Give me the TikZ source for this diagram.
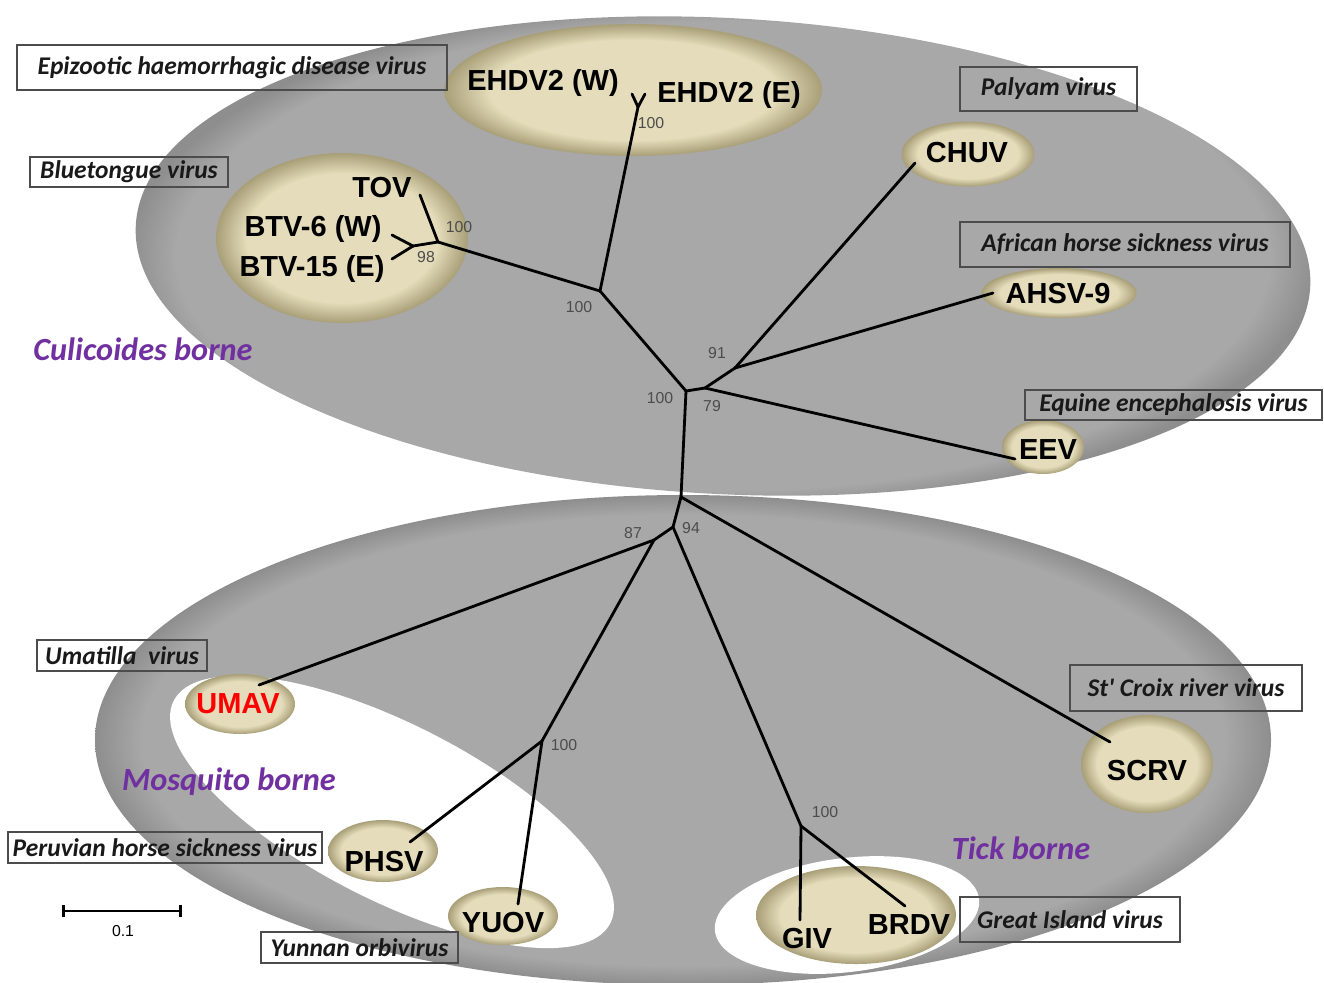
\documentclass[tikz,border=0pt]{standalone}
\usepackage{fontspec}
\setmainfont{Liberation Sans}
\setsansfont{Liberation Sans}
\newfontfamily\calibrifont{Carlito}
\usepackage{tikz}
\usetikzlibrary{shapes.geometric,arrows.meta}
\definecolor{borneviolet}{HTML}{7030A0}
\definecolor{tanlight}{HTML}{E4DCBA}
\definecolor{tanrim}{HTML}{A89F78}
\definecolor{blobgrey}{HTML}{A8A8A8}
\definecolor{blobrim}{HTML}{8E8E8E}
\pgfdeclareradialshading{tanball}{\pgfpoint{0bp}{0bp}}{color(0bp)=(tanlight); color(19bp)=(tanlight); color(25bp)=(tanrim); color(50bp)=(tanrim)}
\pgfdeclareradialshading{greyblob}{\pgfpoint{0bp}{0bp}}{color(0bp)=(blobgrey); color(23bp)=(blobgrey); color(25bp)=(blobrim); color(50bp)=(blobrim)}
\newcommand{\leaffont}{\fontsize{16.5}{18}\selectfont\bfseries}
\newcommand{\boxfont}{\calibrifont\fontsize{14.5}{16}\selectfont\bfseries\itshape}
\newcommand{\bornefont}{\calibrifont\fontsize{18.4}{20}\selectfont\bfseries\itshape}
\newcommand{\bootfont}{\fontsize{9}{10}\selectfont}
\tikzset{
    blob/.style={shade, shading=greyblob},
    hole/.style={fill=white},
    tanoval/.style={
        ellipse, shade, shading=tanball, inner sep=0pt
    },
    leafname/.style={font=\leaffont, inner sep=0pt},
    virusbox/.style={
        draw=black!70, line width=1pt, font=\boxfont,
        text=black!90, inner xsep=1pt, inner ysep=0pt
    },
    borne/.style={font=\bornefont, text=borneviolet, inner sep=0pt},
    bootval/.style={font=\bootfont, text=black!70, inner sep=0pt},
    branch/.style={line width=1.6pt, line cap=round}
}

\begin{document}
\begin{tikzpicture}[x=0.2mm, y=-0.2mm]
    \useasboundingbox (0,0) rectangle (1324,982);

    % vector groups
    \path[blob, rotate around={-3:(723,256)}] (723,256) ellipse [x radius=588, y radius=238];
    \path[blob] (683,740) ellipse [x radius=588, y radius=245];
    \path[hole, rotate around={-27:(392,812)}] (392,812) ellipse [x radius=245, y radius=88];
    \path[hole, rotate around={7:(847,915)}] (847,915) ellipse [x radius=133, y radius=57];

    % virus ovals
    \node[tanoval, minimum width=75.6mm, minimum height=26.4mm] (ehdvoval) at (633,90) {};
    \node[tanoval, minimum width=50.4mm, minimum height=34mm] (btvoval) at (342,238) {};
    \node[tanoval, minimum width=26.6mm, minimum height=13mm] (chuvoval) at (968,154) {};
    \node[tanoval, minimum width=31mm, minimum height=10mm] (ahsvoval) at (1059,293) {};
    \node[tanoval, minimum width=16.4mm, minimum height=10.8mm] (eevoval) at (1043,447) {};
    \node[tanoval, minimum width=22mm, minimum height=12mm] (umavoval) at (240,704) {};
    \node[tanoval, minimum width=22mm, minimum height=12.4mm] (phsvoval) at (383,851) {};
    \node[tanoval, minimum width=22mm, minimum height=11.6mm] (yuovoval) at (503,916) {};
    \node[tanoval, minimum width=26.4mm, minimum height=19.6mm] (scrvoval) at (1147,764) {};
    \node[tanoval, minimum width=40mm, minimum height=19.6mm] (gioval) at (856,915) {};

    % tree
    \coordinate (rootN) at (681,497);
    \coordinate (culN) at (686,391);
    \coordinate (n79) at (705,388);
    \coordinate (n91) at (735,368);
    \coordinate (orbN) at (600,291);
    \coordinate (ehdvN) at (638,107);
    \coordinate (ehdvWT) at (632,94);
    \coordinate (ehdvET) at (645,94);
    \coordinate (btvN) at (438,242);
    \coordinate (btvS) at (413,246);
    \coordinate (tovT) at (420,195);
    \coordinate (btv6T) at (392,235);
    \coordinate (btv15T) at (392,259);
    \coordinate (chuvT) at (915,163);
    \coordinate (ahsvT) at (993,293);
    \coordinate (eevT) at (1015,459);
    \coordinate (tickN) at (673,527);
    \coordinate (mosN) at (654,540);
    \coordinate (umavT) at (259,685);
    \coordinate (yunN) at (542,741);
    \coordinate (phsvT) at (410,842);
    \coordinate (yuovT) at (518,904);
    \coordinate (scrvT) at (1110,742);
    \coordinate (giN) at (801,826);
    \coordinate (givT) at (800,920);
    \coordinate (brdvT) at (905,906);

    \draw[branch] (rootN) -- (culN);
    \draw[branch] (culN) -- (n79);
    \draw[branch] (n79) -- (n91);
    \draw[branch] (n91) -- (chuvT);
    \draw[branch] (n91) -- (ahsvT);
    \draw[branch] (n79) -- (eevT);
    \draw[branch] (culN) -- (orbN);
    \draw[branch] (orbN) -- (ehdvN);
    \draw[branch] (ehdvN) -- (ehdvWT);
    \draw[branch] (ehdvN) -- (ehdvET);
    \draw[branch] (orbN) -- (btvN);
    \draw[branch] (btvN) -- (tovT);
    \draw[branch] (btvN) -- (btvS);
    \draw[branch] (btvS) -- (btv6T);
    \draw[branch] (btvS) -- (btv15T);
    \draw[branch] (rootN) -- (tickN);
    \draw[branch] (rootN) -- (scrvT);
    \draw[branch] (tickN) -- (mosN);
    \draw[branch] (mosN) -- (umavT);
    \draw[branch] (mosN) -- (yunN);
    \draw[branch] (yunN) -- (phsvT);
    \draw[branch] (yunN) -- (yuovT);
    \draw[branch] (tickN) -- (giN);
    \draw[branch] (giN) -- (givT);
    \draw[branch] (giN) -- (brdvT);

    % bootstrap values
    \node[bootval] (bsehdv) at (651,123) {100};
    \node[bootval] (bsbtv) at (459,227) {100};
    \node[bootval] (bsbtvs) at (426,257) {98};
    \node[bootval] (bsorb) at (579,307) {100};
    \node[bootval] (bscul) at (660,398) {100};
    \node[bootval] (bs79) at (712,406) {79};
    \node[bootval] (bs91) at (717,353) {91};
    \node[bootval] (bs87) at (633,533) {87};
    \node[bootval] (bs94) at (691,528) {94};
    \node[bootval] (bsyun) at (564,745) {100};
    \node[bootval] (bsgi) at (825,812) {100};

    % virus names
    \node[leafname] (ehdvw) at (543,83) {EHDV2 (W)};
    \node[leafname] (ehdve) at (729,95) {EHDV2 (E)};
    \node[leafname] (tov) at (382,188) {TOV};
    \node[leafname] (btvsix) at (313,229) {BTV-6 (W)};
    \node[leafname] (btvfifteen) at (312,269) {BTV-15 (E)};
    \node[leafname] (chuv) at (967,153) {CHUV};
    \node[leafname] (ahsv) at (1058,294) {AHSV-9};
    \node[leafname] (eev) at (1048,450) {EEV};
    \node[leafname, text=red] (umav) at (238,704) {UMAV};
    \node[leafname] (phsv) at (384,861) {PHSV};
    \node[leafname] (yuov) at (503,922) {YUOV};
    \node[leafname] (scrv) at (1147,770) {SCRV};
    \node[leafname] (giv) at (807,938) {GIV};
    \node[leafname] (brdv) at (909,925) {BRDV};

    % species boxes
    \node[virusbox, minimum width=86mm, minimum height=9mm] (ehdvbox) at (232,67.5) {Epizootic haemorrhagic disease virus};
    \node[virusbox, minimum width=39.6mm, minimum height=6mm] (btvbox) at (129,172) {Bluetongue virus};
    \node[virusbox, minimum width=35.4mm, minimum height=8.8mm] (palbox) at (1048.5,89) {Palyam virus};
    \node[virusbox, minimum width=66mm, minimum height=9mm] (ahsbox) at (1125,244.5) {African horse sickness virus};
    \node[virusbox, minimum width=59.4mm, minimum height=6mm] (eebox) at (1173.5,405) {Equine encephalosis virus};
    \node[virusbox, minimum width=34mm, minimum height=6.2mm] (umabox) at (122,655.5) {Umatilla\ \ virus};
    \node[virusbox, minimum width=46.4mm, minimum height=9.2mm] (scrbox) at (1186,688) {St' Croix river virus};
    \node[virusbox, minimum width=62.8mm, minimum height=6.2mm] (perbox) at (165,847.5) {Peruvian horse sickness virus};
    \node[virusbox, minimum width=39.4mm, minimum height=6.2mm] (yunbox) at (359.5,947.5) {Yunnan orbivirus};
    \node[virusbox, minimum width=44mm, minimum height=9mm] (gibox) at (1070,919.5) {Great Island virus};

    % vectors
    \node[borne] (culicoides) at (143,349) {Culicoides borne};
    \node[borne] (mosquito) at (229,782) {Mosquito borne};
    \node[borne] (tick) at (1021,848) {Tick borne};

    % scale bar
    \coordinate (barL) at (62,911);
    \coordinate (barR) at (182,911);
    \draw[line width=1.6pt, {Bar[width=7pt]}-{Bar[width=7pt]}] (barL) -- (barR);
    \node[bootval, text=black] (barlabel) at (123,931) {0.1};
\end{tikzpicture}
\end{document}
